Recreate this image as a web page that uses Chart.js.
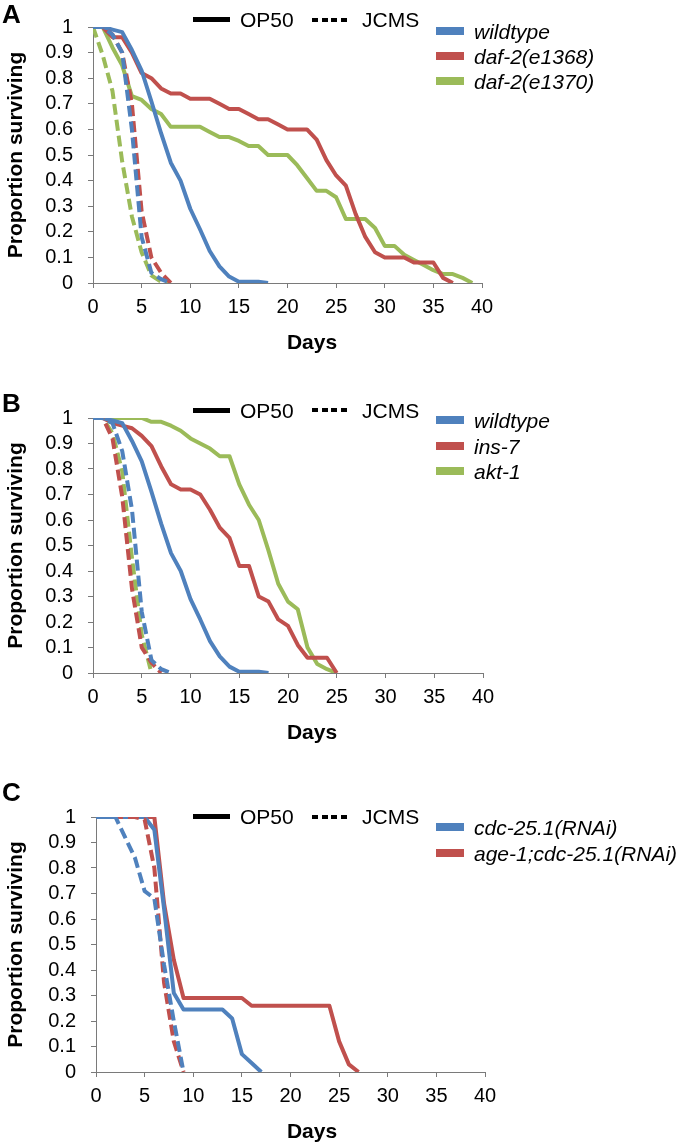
<!DOCTYPE html>
<html><head><meta charset="utf-8">
<script src="https://cdn.jsdelivr.net/npm/chart.js@4.4.1/dist/chart.umd.min.js"></script>
<style>
html,body{margin:0;padding:0;background:#fff;}
body{width:680px;height:1143px;position:relative;overflow:hidden;font-family:"Liberation Sans",Arial,sans-serif;color:#000;}
canvas{position:absolute;left:0;}
.t{position:absolute;white-space:nowrap;line-height:1;}
.letter{font-weight:bold;font-size:26px;}
.days{font-weight:bold;font-size:21px;transform:translateX(-50%);}
.lg{font-size:21px;}
.it{font-style:italic;}
.solid{position:absolute;height:5px;background:#000;}
.dash{position:absolute;height:4px;background:repeating-linear-gradient(90deg,#000 0 6px,transparent 6px 9.7px);}
.sw{position:absolute;width:28px;height:8px;}
</style></head><body>
<canvas id="cA" width="680" height="390" style="top:0px"></canvas>
<canvas id="cB" width="680" height="390" style="top:391px"></canvas>
<canvas id="cC" width="680" height="353" style="top:790px"></canvas>
<script>
// ---- data (days, proportion surviving) ----
const days = [0,1,2,3,4,5,6,7,8,9,10,11,12,13,14,15,16,17,18,19,20,21,22,23,24,25,26,27,28,29,30,31,32,33,34,35,36,37,38,39];
const xTickStep = 5;
const yTickStep = 0.1;

// Panel A
const namesA = ['wildtype','daf-2(e1368)','daf-2(e1370)'];
const wildtypeOP50 = [1,1,0.99,0.98,0.91,0.83,0.71,0.585,0.47,0.40,0.29,0.21,0.125,0.065,0.025,0.005,0.005,0.005,0];
const e1368OP50 = [1,1,0.96,0.96,0.9,0.82,0.8,0.76,0.74,0.74,0.72,0.72,0.72,0.70,0.68,0.68,0.66,0.64,0.64,0.62,0.60,0.60,0.60,0.56,0.48,0.42,0.38,0.27,0.18,0.12,0.10,0.10,0.10,0.08,0.08,0.08,0.02,0];
const e1370OP50 = [1,1,0.92,0.85,0.73,0.715,0.68,0.66,0.61,0.61,0.61,0.61,0.59,0.57,0.57,0.555,0.535,0.535,0.50,0.50,0.50,0.46,0.41,0.36,0.36,0.335,0.25,0.25,0.25,0.215,0.145,0.145,0.11,0.09,0.07,0.05,0.035,0.035,0.02,0];
const wildtypeJCMS_A = [1,1,0.97,0.9,0.6,0.18,0.04,0.015,0];
const e1368JCMS = [1,1,0.97,0.9,0.7,0.28,0.1,0.04,0];
const e1370JCMS = [1,0.89,0.75,0.475,0.26,0.12,0.03,0.005,0];

// Panel B
const namesB = ['wildtype','ins-7','akt-1'];
const ins7OP50 = [1,1,0.98,0.97,0.96,0.93,0.89,0.81,0.74,0.72,0.72,0.70,0.64,0.57,0.53,0.42,0.42,0.30,0.28,0.21,0.185,0.11,0.06,0.06,0.06,0];
const akt1OP50 = [1,1,1,1,1,1,0.985,0.985,0.97,0.95,0.92,0.90,0.88,0.85,0.85,0.74,0.66,0.60,0.48,0.35,0.28,0.25,0.10,0.035,0.015,0];
const wildtypeJCMS_B = [1,1,0.98,0.87,0.64,0.24,0.05,0.015,0];
const ins7JCMS = [1,1,0.92,0.69,0.33,0.10,0.04,0];
const akt1JCMS = [1,1,0.94,0.79,0.45,0.15,0];

// Panel C
const namesC = ['cdc-25.1(RNAi)','age-1;cdc-25.1(RNAi)'];
const cdcOP50 = [1,1,1,1,1,1,0.95,0.64,0.31,0.245,0.245,0.245,0.245,0.245,0.21,0.07,0.035,0];
const ageCdcOP50 = [1,1,1,1,1,1,1,0.66,0.44,0.29,0.29,0.29,0.29,0.29,0.29,0.29,0.26,0.26,0.26,0.26,0.26,0.26,0.26,0.26,0.26,0.12,0.03,0];
const cdcJCMS = [1,1,1,0.92,0.84,0.71,0.68,0.42,0.2,0];
const ageCdcJCMS = [1,1,1,1,1,0.99,0.8,0.35,0.12,0];

const mediaNames = ['OP50','JCMS'];
const colors = ['#4F81BD','#C0504D','#9BBB59'];
const F = '"Liberation Sans", Arial, sans-serif';

const pts = arr => arr.map((v,i)=>({x:days[i], y:v}));

function mkChart(id, cfg){
  const ds = [];
  cfg.dashed.forEach((arr,i)=>ds.push({data:pts(arr), borderColor:colors[i], borderWidth:4, borderDash:[11,5], borderCapStyle:'butt', pointRadius:0, tension:0, fill:false}));
  cfg.solid.forEach((arr,i)=>ds.push({data:pts(arr), borderColor:colors[i], borderWidth:4, borderCapStyle:'butt', borderJoinStyle:'round', pointRadius:0, tension:0, fill:false}));
  const axisCol = '#7a7a7a';
  new Chart(document.getElementById(id), {
    type:'line',
    data:{datasets:ds},
    options:{
      responsive:false, animation:false, devicePixelRatio:1,
      layout:{padding:{top:cfg.padTop, right:680-cfg.right, bottom:0, left:0}},
      plugins:{legend:{display:false}, tooltip:{enabled:false}},
      scales:{
        x:{type:'linear', min:0, max:40,
           afterFit:s=>{s.height=cfg.xh;},
           ticks:{stepSize:xTickStep, padding:7, color:'#000', font:{size:20, family:F}, maxRotation:0, autoSkip:false},
           grid:{drawOnChartArea:false, drawTicks:true, tickLength:5, color:axisCol},
           border:{display:true, color:axisCol, width:1}},
        y:{type:'linear', min:0, max:1,
           afterFit:s=>{s.width=cfg.left;},
           ticks:{stepSize:yTickStep, autoSkip:false, padding:15, color:'#000', font:{size:20, family:F}, callback:v=>String(Math.round(v*10)/10)},
           grid:{drawOnChartArea:false, drawTicks:true, tickLength:5, color:axisCol},
           border:{display:true, color:axisCol, width:1},
           title:{display:true, text:'Proportion surviving', color:'#000', font:{size:21, weight:'bold', family:F}, padding:{top:4, bottom:0}}}
      }
    }
  });
}

mkChart('cA',{padTop:16, left:93, right:482, xh:107, solid:[wildtypeOP50,e1368OP50,e1370OP50], dashed:[wildtypeJCMS_A,e1368JCMS,e1370JCMS]});
mkChart('cB',{padTop:16, left:93, right:483, xh:108, solid:[wildtypeOP50,ins7OP50,akt1OP50], dashed:[wildtypeJCMS_B,ins7JCMS,akt1JCMS]});
mkChart('cC',{padTop:16, left:96, right:485, xh:71, solid:[cdcOP50,ageCdcOP50], dashed:[cdcJCMS,ageCdcJCMS]});

// ---- HTML labels & legends ----
function addText(txt, cls, left, cy, fs){
  const d=document.createElement('div'); d.className='t '+cls; d.textContent=txt;
  d.style.left=left+'px'; d.style.top=(cy-0.4885*fs)+'px'; document.body.appendChild(d); return d;
}
function addBox(cls, left, cy, w, h, bg){
  const d=document.createElement('div'); d.className=cls; d.style.left=left+'px'; d.style.top=(cy-h/2)+'px'; d.style.width=w+'px';
  if(bg) d.style.background=bg; document.body.appendChild(d); return d;
}
const panelsUI = [
  {letter:'A', letterCy:13.5, mediaCy:19.5, swCy:[31,56,81], names:namesA, daysCy:341},
  {letter:'B', letterCy:403, mediaCy:410, swCy:[420,446,471], names:namesB, daysCy:731},
  {letter:'C', letterCy:792, mediaCy:816.5, swCy:[827,853], names:namesC, daysCy:1130}
];
panelsUI.forEach(p=>{
  addText(p.letter,'letter',2,p.letterCy,26);
  addText('Days','days',312,p.daysCy,21);
  addBox('solid',193,p.mediaCy,37,5);
  addText(mediaNames[0],'lg',240,p.mediaCy,21);
  addBox('dash',312,p.mediaCy,35,4);
  addText(mediaNames[1],'lg',362,p.mediaCy,21);
  p.names.forEach((n,i)=>{
    addBox('sw',436,p.swCy[i],28,8,colors[i]);
    addText(n,'lg it',474,p.swCy[i],21);
  });
});
</script>
</body></html>
